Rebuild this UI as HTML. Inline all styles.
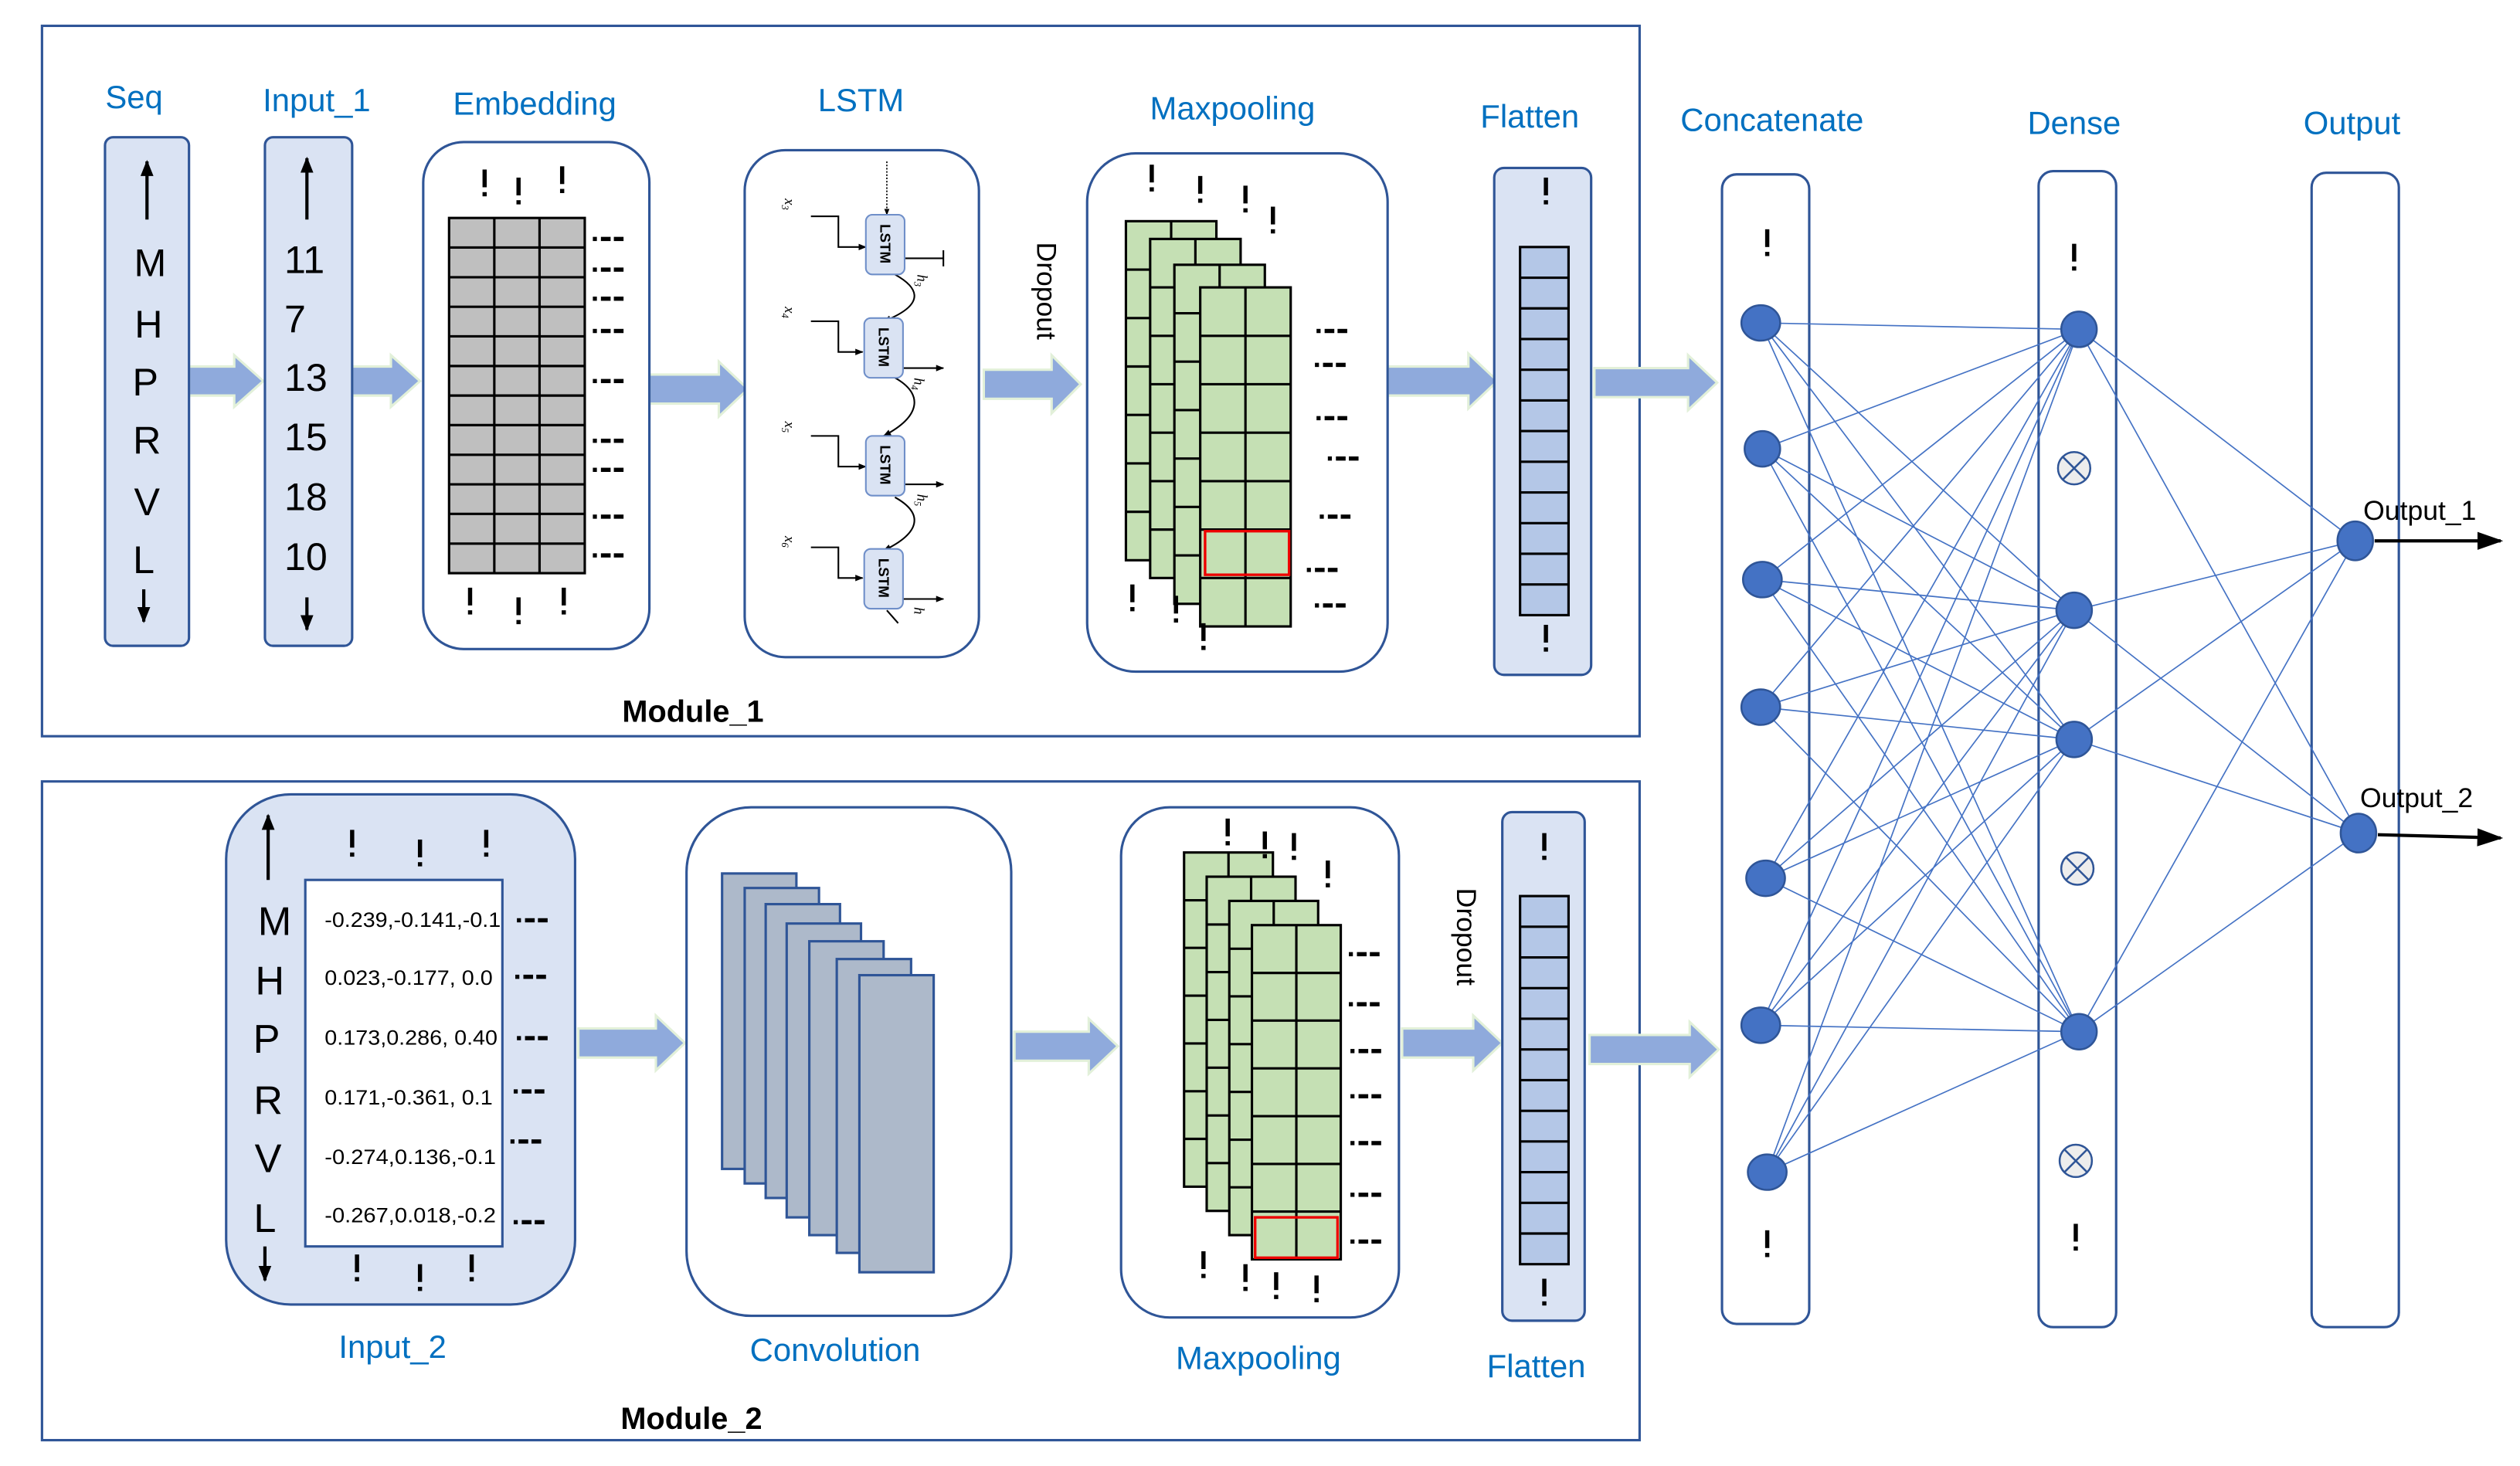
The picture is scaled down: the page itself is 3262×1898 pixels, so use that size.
<!DOCTYPE html>
<html><head><meta charset="utf-8"><style>
html,body{margin:0;padding:0;background:#fff;}
svg{display:block;}
.lb{font-family:"Liberation Sans",sans-serif;fill:#0070c0;font-size:20px;text-anchor:middle;}
.bk{font-family:"Liberation Sans",sans-serif;fill:#000;}
</style></head><body>
<svg width="3262" height="1898" viewBox="0 0 1560 908" preserveAspectRatio="none" xmlns="http://www.w3.org/2000/svg">
<defs>
<symbol id="ex" overflow="visible"><rect x="-1.3" y="0" width="2.6" height="11" fill="#000"/><rect x="-1.3" y="14" width="2.6" height="2.6" fill="#000"/></symbol>
<symbol id="ds" overflow="visible"><rect x="0" y="-1.3" width="2.5" height="2.6" fill="#000"/><rect x="5" y="-1.3" width="6" height="2.6" fill="#000"/><rect x="13" y="-1.3" width="6" height="2.6" fill="#000"/></symbol>
<symbol id="g1" overflow="visible"><rect x="0" y="0" width="56" height="210" fill="#c5e0b4" stroke="#000" stroke-width="1.5"/><path d="M28,0V210M0,30h56M0,60h56M0,90h56M0,120h56M0,150h56M0,180h56" stroke="#000" stroke-width="1.5" fill="none"/></symbol>
<symbol id="g2" overflow="visible"><rect x="0" y="0" width="55" height="207" fill="#c5e0b4" stroke="#000" stroke-width="1.5"/><path d="M27.5,0V207M0,29.6h55M0,59.1h55M0,88.7h55M0,118.3h55M0,147.9h55M0,177.4h55" stroke="#000" stroke-width="1.5" fill="none"/></symbol>
<symbol id="fl" overflow="visible"><rect x="0" y="0" width="30" height="228" fill="#b4c7e7" stroke="#000" stroke-width="1.5"/><path d="M0,19h30M0,38h30M0,57h30M0,76h30M0,95h30M0,114h30M0,133h30M0,152h30M0,171h30M0,190h30M0,209h30" stroke="#000" stroke-width="1.5"/></symbol>
<marker id="ah" viewBox="0 0 10 10" refX="9" refY="5" markerWidth="5" markerHeight="5" orient="auto"><path d="M0,1L10,5L0,9z" fill="#000"/></marker>
<marker id="ah2" viewBox="0 0 10 10" refX="9" refY="5" markerWidth="8" markerHeight="8" orient="auto"><path d="M0,1.5L10,5L0,8.5z" fill="#000"/></marker>
</defs>

<rect x="26" y="16" width="989" height="440" fill="none" stroke="#2f5597" stroke-width="1.5"/>
<rect x="26" y="484" width="989" height="408" fill="none" stroke="#2f5597" stroke-width="1.5"/>

<text class="lb" x="83" y="67">Seq</text>
<text class="lb" x="196" y="69">Input_1</text>
<text class="lb" x="331" y="71">Embedding</text>
<text class="lb" x="533" y="69">LSTM</text>
<text class="lb" x="763" y="74">Maxpooling</text>
<text class="lb" x="947" y="79">Flatten</text>
<text class="lb" x="1097" y="81">Concatenate</text>
<text class="lb" x="1284" y="83">Dense</text>
<text class="lb" x="1456" y="83">Output</text>
<text class="lb" x="243" y="841">Input_2</text>
<text class="lb" x="517" y="843">Convolution</text>
<text class="lb" x="779" y="848">Maxpooling</text>
<text class="lb" x="951" y="853">Flatten</text>
<text class="bk" x="429" y="447" font-size="19" font-weight="bold" text-anchor="middle">Module_1</text>
<text class="bk" x="428" y="885" font-size="19" font-weight="bold" text-anchor="middle">Module_2</text>

<g fill="#8faadc" stroke="#e2f0d9" stroke-width="1.5">
<polygon points="117,227 145,227 145,220 163,236 145,252 145,245 117,245"/>
<polygon points="218,227 242,227 242,220 260,236 242,252 242,245 218,245"/>
<polygon points="402,232 445,232 445,224 463,241 445,258 445,250 402,250"/>
<polygon points="609,229 651,229 651,220 669,238 651,256 651,247 609,247"/>
<polygon points="859,227 909,227 909,219 927,236 909,253 909,245 859,245"/>
<polygon points="987,228 1045,228 1045,220 1063,237 1045,254 1045,246 987,246"/>
<polygon points="358,637 406,637 406,629 424,646 406,663 406,655 358,655"/>
<polygon points="628,639 674,639 674,631 692,648 674,665 674,657 628,657"/>
<polygon points="868,637 912,637 912,629 930,646 912,663 912,655 868,655"/>
<polygon points="984,641 1046,641 1046,633 1064,650 1046,667 1046,659 984,659"/>
</g>

<rect x="65" y="85" width="52" height="315" rx="5" fill="#dae3f3" stroke="#2f5597" stroke-width="1.5"/>
<line x1="91" y1="136" x2="91" y2="100" stroke="#000" stroke-width="2" marker-end="url(#ah)"/>
<g class="bk" font-size="24" text-anchor="middle">
<text x="93" y="171">M</text><text x="92" y="209">H</text><text x="90" y="245">P</text><text x="91" y="281">R</text><text x="91" y="319">V</text><text x="89" y="355">L</text>
</g>
<line x1="89" y1="365" x2="89" y2="385" stroke="#000" stroke-width="2" marker-end="url(#ah)"/>

<rect x="164" y="85" width="54" height="315" rx="5" fill="#dae3f3" stroke="#2f5597" stroke-width="1.5"/>
<line x1="190" y1="136" x2="190" y2="98" stroke="#000" stroke-width="2" marker-end="url(#ah)"/>
<g class="bk" font-size="24">
<text x="176" y="169">11</text><text x="176" y="206">7</text><text x="176" y="242">13</text><text x="176" y="279">15</text><text x="176" y="316">18</text><text x="176" y="353">10</text>
</g>
<line x1="190" y1="370" x2="190" y2="390" stroke="#000" stroke-width="2" marker-end="url(#ah)"/>

<rect x="262" y="88" width="140" height="314" rx="25" fill="#fff" stroke="#2f5597" stroke-width="1.5"/>
<rect x="278" y="135" width="84" height="220" fill="#bfbfbf" stroke="#000" stroke-width="1.5"/>
<path d="M306,135V355M334,135V355M278,153.3h84M278,171.7h84M278,190h84M278,208.3h84M278,226.7h84M278,245h84M278,263.3h84M278,281.7h84M278,300h84M278,318.3h84M278,336.7h84" stroke="#000" stroke-width="1.5"/>
<use href="#ex" x="300" y="105"/><use href="#ex" x="321" y="110"/><use href="#ex" x="348" y="103"/>
<use href="#ex" x="291" y="364"/><use href="#ex" x="321" y="370"/><use href="#ex" x="349" y="364"/>
<use href="#ds" x="367" y="148"/><use href="#ds" x="367" y="167"/><use href="#ds" x="367" y="185"/><use href="#ds" x="367" y="205"/><use href="#ds" x="367" y="236"/><use href="#ds" x="367" y="273"/><use href="#ds" x="367" y="291"/><use href="#ds" x="367" y="320"/><use href="#ds" x="367" y="344"/>

<rect x="461" y="93" width="145" height="314" rx="25" fill="#fff" stroke="#2f5597" stroke-width="1.5"/>
<line x1="549" y1="100" x2="549" y2="133" stroke="#000" stroke-width="0.8" stroke-dasharray="1,1" marker-end="url(#ah)"/>
<g stroke="#000" stroke-width="1" fill="none">
<path d="M502,134H519V153H536" marker-end="url(#ah)"/>
<path d="M502,199H519V218H534" marker-end="url(#ah)"/>
<path d="M502,270H519V289H536" marker-end="url(#ah)"/>
<path d="M502,339H519V358H534" marker-end="url(#ah)"/>
<path d="M560,160H584M584,155V165"/>
<path d="M559,228H584" marker-end="url(#ah)"/>
<path d="M560,300H584" marker-end="url(#ah)"/>
<path d="M559,371H584" marker-end="url(#ah)"/>
<path d="M554,170C572,180 570,190 547,199" marker-end="url(#ah)"/>
<path d="M554,234C572,244 570,258 547,270" marker-end="url(#ah)"/>
<path d="M554,308C572,318 570,330 547,341" marker-end="url(#ah)"/>
<path d="M549,378L556,386"/>
</g>
<g fill="#dae3f3" stroke="#6f8fc9" stroke-width="1">
<rect x="536" y="133" width="24" height="37" rx="4"/>
<rect x="535" y="197" width="24" height="37" rx="4"/>
<rect x="536" y="270" width="24" height="37" rx="4"/>
<rect x="535" y="340" width="24" height="37" rx="4"/>
</g>
<g class="bk" font-size="9" font-weight="bold" text-anchor="middle">
<text transform="translate(545,151) rotate(90)">LSTM</text>
<text transform="translate(544,215) rotate(90)">LSTM</text>
<text transform="translate(545,288) rotate(90)">LSTM</text>
<text transform="translate(544,358) rotate(90)">LSTM</text>
</g>
<g font-family="Liberation Serif,serif" font-style="italic" font-size="9" fill="#000">
<text transform="translate(486,123) rotate(90)">x<tspan font-size="6" dy="2">3</tspan></text>
<text transform="translate(486,190) rotate(90)">x<tspan font-size="6" dy="2">4</tspan></text>
<text transform="translate(486,261) rotate(90)">x<tspan font-size="6" dy="2">5</tspan></text>
<text transform="translate(486,332) rotate(90)">x<tspan font-size="6" dy="2">6</tspan></text>
<text transform="translate(568,170) rotate(90)">h<tspan font-size="6" dy="2">3</tspan></text>
<text transform="translate(566,234) rotate(90)">h<tspan font-size="6" dy="2">4</tspan></text>
<text transform="translate(568,306) rotate(90)">h<tspan font-size="6" dy="2">5</tspan></text>
<text transform="translate(566,376) rotate(90)">h</text>
</g>
<text class="bk" font-size="17" transform="translate(642,150) rotate(90)">Dropout</text>

<rect x="673" y="95" width="186" height="321" rx="30" fill="#fff" stroke="#2f5597" stroke-width="1.5"/>
<use href="#g1" x="697" y="137"/><use href="#g1" x="712" y="148"/><use href="#g1" x="727" y="164"/><use href="#g1" x="743" y="178"/>
<rect x="746" y="329" width="52" height="27" fill="none" stroke="#e00" stroke-width="1.6"/>
<use href="#ex" x="713" y="102"/><use href="#ex" x="743" y="109"/><use href="#ex" x="771" y="115"/><use href="#ex" x="788" y="128"/>
<use href="#ex" x="701" y="362"/><use href="#ex" x="728" y="369"/><use href="#ex" x="745" y="386" />
<use href="#ds" x="815" y="205"/><use href="#ds" x="814" y="226"/><use href="#ds" x="815" y="259"/><use href="#ds" x="822" y="284"/><use href="#ds" x="817" y="320"/><use href="#ds" x="809" y="353"/><use href="#ds" x="814" y="375"/>

<rect x="925" y="104" width="60" height="314" rx="6" fill="#dae3f3" stroke="#2f5597" stroke-width="1.5"/>
<use href="#fl" x="941" y="153"/>
<use href="#ex" x="957" y="110"/><use href="#ex" x="957" y="387"/>

<rect x="140" y="492" width="216" height="316" rx="40" fill="#dae3f3" stroke="#2f5597" stroke-width="1.5"/>
<rect x="189" y="545" width="122" height="227" fill="#fff" stroke="#2f5597" stroke-width="1.5"/>
<line x1="166" y1="545" x2="166" y2="505" stroke="#000" stroke-width="2" marker-end="url(#ah)"/>
<line x1="164" y1="772" x2="164" y2="793" stroke="#000" stroke-width="2" marker-end="url(#ah)"/>
<g class="bk" font-size="25" text-anchor="middle">
<text x="170" y="579">M</text><text x="167" y="616">H</text><text x="165" y="652">P</text><text x="166" y="690">R</text><text x="166" y="726">V</text><text x="164" y="763">L</text>
</g>
<g class="bk" font-size="13">
<text x="201" y="574" textLength="109" lengthAdjust="spacingAndGlyphs">-0.239,-0.141,-0.1</text>
<text x="201" y="610" textLength="104" lengthAdjust="spacingAndGlyphs">0.023,-0.177, 0.0</text>
<text x="201" y="647" textLength="107" lengthAdjust="spacingAndGlyphs">0.173,0.286, 0.40</text>
<text x="201" y="684" textLength="104" lengthAdjust="spacingAndGlyphs">0.171,-0.361, 0.1</text>
<text x="201" y="721" textLength="106" lengthAdjust="spacingAndGlyphs">-0.274,0.136,-0.1</text>
<text x="201" y="757" textLength="106" lengthAdjust="spacingAndGlyphs">-0.267,0.018,-0.2</text>
</g>
<use href="#ex" x="218" y="514"/><use href="#ex" x="260" y="520"/><use href="#ex" x="301" y="514"/>
<use href="#ex" x="221" y="777"/><use href="#ex" x="260" y="783"/><use href="#ex" x="292" y="777"/>
<use href="#ds" x="320" y="570"/><use href="#ds" x="319" y="605"/><use href="#ds" x="320" y="643"/><use href="#ds" x="318" y="676"/><use href="#ds" x="316" y="707"/><use href="#ds" x="318" y="757"/>

<rect x="425" y="500" width="201" height="315" rx="40" fill="#fff" stroke="#2f5597" stroke-width="1.5"/>
<g fill="#adb9ca" stroke="#2f5597" stroke-width="1.5">
<rect x="447" y="541" width="46" height="183"/>
<rect x="461" y="550" width="46" height="183"/>
<rect x="474" y="560" width="46" height="182"/>
<rect x="487" y="572" width="46" height="182"/>
<rect x="501" y="583" width="46" height="182"/>
<rect x="518" y="594" width="46" height="182"/>
<rect x="532" y="604" width="46" height="184"/>
</g>

<rect x="694" y="500" width="172" height="316" rx="30" fill="#fff" stroke="#2f5597" stroke-width="1.5"/>
<use href="#g2" x="733" y="528"/><use href="#g2" x="747" y="543"/><use href="#g2" x="761" y="558"/><use href="#g2" x="775" y="573"/>
<rect x="777" y="754" width="51" height="25" fill="none" stroke="#e00" stroke-width="1.6"/>
<use href="#ex" x="760" y="507"/><use href="#ex" x="783" y="515"/><use href="#ex" x="801" y="516"/><use href="#ex" x="822" y="533"/>
<use href="#ex" x="745" y="775"/><use href="#ex" x="771" y="783"/><use href="#ex" x="790" y="788"/><use href="#ex" x="815" y="790"/>
<use href="#ds" x="835" y="591"/><use href="#ds" x="835" y="622"/><use href="#ds" x="836" y="651"/><use href="#ds" x="836" y="679"/><use href="#ds" x="836" y="708"/><use href="#ds" x="836" y="740"/><use href="#ds" x="836" y="769"/>

<text class="bk" font-size="17" transform="translate(902,550) rotate(90)">Dropout</text>

<rect x="930" y="503" width="51" height="315" rx="6" fill="#dae3f3" stroke="#2f5597" stroke-width="1.5"/>
<use href="#fl" x="941" y="555"/>
<use href="#ex" x="956" y="516"/><use href="#ex" x="956" y="792"/>

<rect x="1066" y="108" width="54" height="712" rx="9" fill="#fff" stroke="#2f5597" stroke-width="1.5"/>
<rect x="1262" y="106" width="48" height="716" rx="9" fill="#fff" stroke="#2f5597" stroke-width="1.5"/>
<rect x="1431" y="107" width="54" height="715" rx="9" fill="#fff" stroke="#2f5597" stroke-width="1.5"/>

<path stroke="#4472c4" stroke-width="0.8" fill="none" d="
M1090,200L1287,204M1090,200L1284,378M1090,200L1284,458M1090,200L1287,639
M1091,278L1287,204M1091,278L1284,378M1091,278L1284,458M1091,278L1287,639
M1091,359L1287,204M1091,359L1284,378M1091,359L1284,458M1091,359L1287,639
M1090,438L1287,204M1090,438L1284,378M1090,438L1284,458M1090,438L1287,639
M1093,544L1287,204M1093,544L1284,378M1093,544L1284,458M1093,544L1287,639
M1090,635L1287,204M1090,635L1284,378M1090,635L1284,458M1090,635L1287,639
M1094,726L1287,204M1094,726L1284,378M1094,726L1284,458M1094,726L1287,639
M1287,204L1458,335M1287,204L1460,516M1284,378L1458,335M1284,378L1460,516
M1284,458L1458,335M1284,458L1460,516M1287,639L1458,335M1287,639L1460,516"/>

<g fill="#4472c4" stroke="#2f5597" stroke-width="1.2">
<ellipse cx="1090" cy="200" rx="12" ry="11"/><ellipse cx="1091" cy="278" rx="11" ry="11"/><ellipse cx="1091" cy="359" rx="12" ry="11"/><ellipse cx="1090" cy="438" rx="12" ry="11"/><ellipse cx="1093" cy="544" rx="12" ry="11"/><ellipse cx="1090" cy="635" rx="12" ry="11"/><ellipse cx="1094" cy="726" rx="12" ry="11"/>
<ellipse cx="1287" cy="204" rx="11" ry="11"/><ellipse cx="1284" cy="378" rx="11" ry="11"/><ellipse cx="1284" cy="458" rx="11" ry="11"/><ellipse cx="1287" cy="639" rx="11" ry="11"/>
<ellipse cx="1458" cy="335" rx="11" ry="12"/><ellipse cx="1460" cy="516" rx="11" ry="12"/>
</g>
<g fill="#ededed" stroke="#2f5597" stroke-width="1.2">
<circle cx="1284" cy="290" r="10"/><circle cx="1286" cy="538" r="10"/><circle cx="1285" cy="719" r="10"/>
<path d="M1277,283l14,14M1291,283l-14,14M1279,531l14,14M1293,531l-14,14M1278,712l14,14M1292,712l-14,14"/>
</g>
<use href="#ex" x="1094" y="142"/><use href="#ex" x="1094" y="762"/>
<use href="#ex" x="1284" y="151"/><use href="#ex" x="1285" y="758"/>

<line x1="1470" y1="335" x2="1548" y2="335" stroke="#000" stroke-width="2" marker-end="url(#ah2)"/>
<line x1="1472" y1="517" x2="1548" y2="519" stroke="#000" stroke-width="2" marker-end="url(#ah2)"/>
<text class="bk" x="1463" y="322" font-size="17">Output_1</text>
<text class="bk" x="1461" y="500" font-size="17">Output_2</text>
</svg>
</body></html>
